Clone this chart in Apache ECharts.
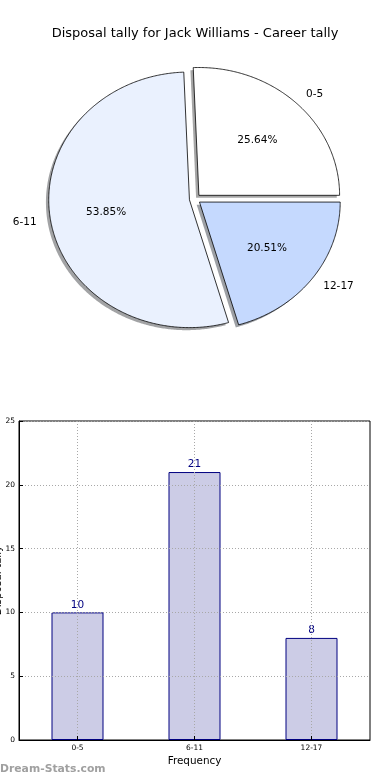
<!DOCTYPE html>
<html><head><meta charset="utf-8">
<script src="https://cdn.jsdelivr.net/npm/echarts@6/dist/echarts.min.js"></script>
<style>html,body{margin:0;padding:0;background:#fff}#c{width:390px;height:780px}</style>
</head><body><div id="c"></div>
<script>
// ---- data ----
const categories = ['0-5', '6-11', '12-17'];
const tallies = [10, 21, 8];
const pieColors = ['#ffffff', '#eaf1fe', '#c5d9fe'];
const yTicks = [0, 5, 10, 15, 20, 25];

const FONT = 'DejaVu Sans';
const total = tallies.reduce((a, b) => a + b, 0);
const cum = [];
tallies.reduce((acc, v, i) => { cum[i] = acc; return acc + v; }, 0);

// pie (ellipse, like non-equal-aspect matplotlib pie) layout
const CX = 195, CY = 199, RX = 140.7, RY = 127.8, EXP = 0.04;
const SHX = -0.02 * RX, SHY = 0.02 * RY;

function shadowColor(hex) {
  const n = parseInt(hex.slice(1), 16);
  const r = ((n >> 16) & 255) * 0.3, g = ((n >> 8) & 255) * 0.3, b = (n & 255) * 0.3;
  return 'rgba(' + Math.round(r) + ',' + Math.round(g) + ',' + Math.round(b) + ',0.5)';
}

function renderSlice(params, api) {
  const i = params.dataIndex;
  const v = api.value(1);
  const a0 = cum[i] / total * 2 * Math.PI;
  const a1 = (cum[i] + v) / total * 2 * Math.PI;
  const mid = (a0 + a1) / 2;
  const ox = CX + EXP * RX * Math.cos(mid);
  const oy = CY - EXP * RY * Math.sin(mid);
  const pts = [[ox, oy]];
  const steps = Math.max(8, Math.ceil((a1 - a0) / 0.01));
  for (let k = 0; k <= steps; k++) {
    const a = a0 + (a1 - a0) * k / steps;
    pts.push([ox + RX * Math.cos(a), oy - RY * Math.sin(a)]);
  }
  const spts = pts.map(p => [p[0] + SHX, p[1] + SHY]);
  const pct = (v / total * 100).toFixed(2) + '%';
  const c = Math.cos(mid), s = Math.sin(mid);
  return {
    type: 'group',
    children: [
      { type: 'polygon', shape: { points: spts }, style: { fill: shadowColor(pieColors[i]) }, z2: 0 },
      { type: 'polygon', shape: { points: pts }, style: { fill: pieColors[i], stroke: '#000', lineWidth: 0.8 }, z2: 10 },
      { type: 'text', z2: 20, style: { text: pct, x: ox + 0.6 * RX * c, y: oy - 0.6 * RY * s,
          align: 'center', verticalAlign: 'middle', fontFamily: FONT, fontSize: 10.5, fill: '#000' } },
      { type: 'text', z2: 20, style: { text: categories[i], x: ox + 1.1 * RX * c, y: oy - 1.1 * RY * s,
          align: c >= 0 ? 'left' : 'right', verticalAlign: 'middle', fontFamily: FONT, fontSize: 10.5, fill: '#000' } }
    ]
  };
}

const chart = echarts.init(document.getElementById('c'), null, { renderer: 'canvas' });
const grid = '#a8a8a8';
chart.setOption({
  animation: false,
  backgroundColor: '#fff',
  textStyle: { fontFamily: FONT },
  title: {
    text: 'Disposal tally for Jack Williams - Career tally',
    left: 'center', top: 22,
    textStyle: { fontFamily: FONT, fontSize: 13, fontWeight: 'normal', color: '#000' }
  },
  graphic: [{
    type: 'text', left: 0, top: 764,
    style: { text: 'Dream-Stats.com', fontFamily: FONT, fontSize: 10.8, fontWeight: 'bold', fill: '#a0a0a0' }
  }],
  grid: { left: 19, right: 20, top: 421, bottom: 40, containLabel: false, outerBoundsMode: 'none',
    show: true, borderColor: '#000', borderWidth: 1, backgroundColor: 'transparent' },
  xAxis: {
    type: 'category', data: categories, z: 5,
    axisLine: { show: true, lineStyle: { color: '#000', width: 1 } },
    axisTick: { show: true, inside: true, alignWithLabel: true, length: 4, lineStyle: { color: '#000' } },
    axisLabel: { fontFamily: FONT, fontSize: 7.5, color: '#000', margin: 4 },
    splitLine: { show: true, alignWithLabel: true, lineStyle: { type: [1, 2], color: grid } },
    name: 'Frequency', nameLocation: 'middle', nameGap: 16,
    nameTextStyle: { fontFamily: FONT, fontSize: 10.4, color: '#000' }
  },
  yAxis: {
    type: 'value', min: yTicks[0], max: yTicks[yTicks.length - 1], interval: yTicks[1] - yTicks[0], z: 5,
    axisLine: { show: true, lineStyle: { color: '#000', width: 1 } },
    axisTick: { show: true, inside: true, length: 4, lineStyle: { color: '#000' } },
    axisLabel: { fontFamily: FONT, fontSize: 7.5, color: '#000', margin: 4 },
    splitLine: { show: true, lineStyle: { type: [1, 2], color: grid } },
    name: 'Disposal tally', nameLocation: 'middle', nameGap: 16, nameMoveOverlap: false,
    nameTextStyle: { fontFamily: FONT, fontSize: 10.4, color: '#000' }
  },
  series: [
    {
      type: 'custom', coordinateSystem: 'none', z: 2,
      data: tallies.map((v, i) => [i, v]),
      renderItem: renderSlice
    },
    {
      type: 'bar', data: tallies, barWidth: 52, z: 1,
      itemStyle: { color: '#ccccE6', borderColor: '#000080', borderWidth: 1 },
      label: { show: true, position: 'top', distance: 2, color: '#000080', fontFamily: FONT, fontSize: 10.5 }
    }
  ]
});
</script>
</body></html>
